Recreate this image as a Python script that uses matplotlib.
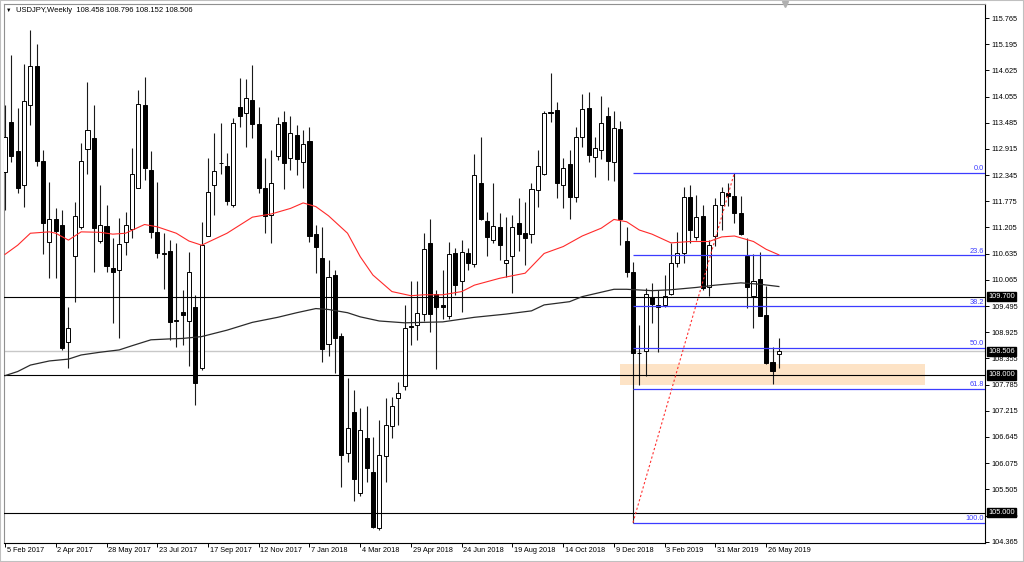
import numpy as np
import matplotlib
matplotlib.use('Agg')
from matplotlib import pyplot as plt
from matplotlib.patches import Rectangle

plt.rcParams['font.family'] = ['Liberation Sans', 'DejaVu Sans']

# ------------------------------------------------------------
# USDJPY weekly candles, first bar = week of 5 Feb 2017
opens = [112.42, 113.51, 112.87, 112.12, 113.87, 114.72, 112.65, 110.90, 111.40, 111.26,
         108.71, 110.58, 111.22, 112.91, 113.16, 110.91, 111.23, 110.33, 110.29, 110.88,
         111.17, 112.07, 113.87, 112.46, 111.10, 110.62, 110.69, 109.16, 109.36, 109.17,
         109.48, 108.14, 111.03, 112.14, 112.60, 112.54, 111.69, 113.83, 113.69, 113.99,
         113.45, 112.06, 111.48, 112.76, 113.51, 112.71, 113.22, 112.64, 113.09, 111.06,
         110.55, 108.67, 110.17, 108.84, 106.30, 107.18, 105.42, 106.62, 105.89, 104.66,
         106.22, 106.88, 107.49, 107.75, 109.07, 109.08, 109.32, 110.87, 109.75, 109.52,
         109.28, 110.64, 110.03, 110.64, 110.41, 112.18, 111.35, 110.93, 111.22, 110.44,
         110.58, 111.30, 111.08, 111.06, 112.02, 112.38, 113.71, 113.76, 112.13, 112.59,
         111.86, 113.17, 113.80, 112.75, 112.89, 113.63, 112.62, 113.34, 110.92, 110.24,
         108.48, 108.52, 109.70, 109.52, 109.52, 109.76, 110.43, 110.64, 111.86, 110.99,
         111.46, 109.90, 111.01, 111.69, 111.95, 111.88, 111.51, 110.59, 109.71, 110.08,
         109.30, 108.28, 108.458]
highs = [113.87, 114.96, 113.80, 114.76, 115.50, 115.19, 112.89, 112.20, 111.62, 111.59,
         109.48, 111.77, 113.04, 114.38, 113.87, 112.13, 111.69, 110.97, 111.42, 111.55,
         112.93, 114.20, 114.49, 112.87, 112.20, 111.08, 110.93, 110.86, 109.84, 110.68,
         109.74, 111.33, 112.71, 113.27, 113.47, 112.83, 113.58, 114.47, 114.43, 114.74,
         113.83, 112.71, 112.89, 113.62, 113.75, 113.63, 113.44, 113.33, 113.40, 111.26,
         111.22, 110.50, 110.28, 108.90, 107.92, 107.67, 107.27, 107.31, 106.65, 107.02,
         107.49, 107.52, 107.85, 109.52, 110.03, 110.03, 111.09, 111.40, 109.84, 110.27,
         110.90, 110.75, 110.93, 110.75, 112.81, 113.18, 111.55, 112.17, 111.53, 111.44,
         111.48, 111.84, 111.77, 112.17, 112.89, 113.73, 114.56, 113.94, 112.71, 112.89,
         113.40, 114.11, 114.16, 113.18, 114.07, 113.83, 113.73, 113.53, 111.22, 110.46,
         109.08, 109.88, 110.00, 109.85, 110.17, 110.86, 111.11, 112.09, 112.13, 111.91,
         111.70, 110.93, 111.84, 112.09, 112.17, 112.40, 111.89, 110.97, 110.63, 110.68,
         109.93, 108.61, 108.796]
lows = [111.59, 112.64, 111.95, 111.66, 113.44, 112.55, 110.62, 110.10, 110.10, 108.54,
        108.14, 109.59, 111.18, 112.38, 110.24, 110.86, 110.24, 109.12, 108.79, 110.61,
        110.97, 112.06, 112.24, 110.97, 110.55, 109.87, 108.76, 108.61, 108.65, 108.18,
        107.34, 108.10, 111.01, 111.48, 112.38, 111.69, 111.66, 113.40, 112.95, 113.15,
        111.95, 111.08, 110.86, 112.67, 112.04, 112.46, 112.35, 112.06, 110.90, 110.21,
        108.28, 108.41, 108.03, 105.55, 106.11, 105.26, 105.35, 105.67, 104.66, 104.62,
        105.67, 106.62, 106.91, 107.67, 108.65, 108.76, 109.18, 108.94, 108.12, 109.21,
        109.21, 109.74, 109.37, 110.28, 110.35, 111.37, 110.58, 110.87, 110.50, 110.12,
        109.77, 110.70, 110.39, 110.86, 111.66, 112.35, 113.51, 111.84, 111.62, 111.38,
        111.77, 112.95, 112.64, 112.30, 112.70, 112.24, 112.22, 110.82, 110.13, 104.78,
        107.78, 107.97, 109.13, 108.50, 109.48, 109.74, 110.34, 110.43, 110.87, 110.93,
        109.85, 109.71, 110.80, 111.15, 111.67, 111.31, 111.04, 109.45, 109.01, 109.27,
        108.23, 107.80, 108.152]
closes = [113.18, 112.76, 112.07, 113.96, 114.71, 112.65, 111.30, 111.38, 111.13, 108.59,
          109.01, 111.46, 112.65, 113.32, 111.20, 111.26, 110.37, 110.24, 110.85, 111.26,
          112.37, 113.89, 112.49, 111.11, 110.64, 110.66, 109.14, 109.19, 109.31, 110.23,
          107.81, 110.82, 111.97, 112.44, 112.60, 111.79, 113.47, 113.63, 114.03, 113.46,
          112.06, 111.45, 112.18, 113.46, 112.60, 113.27, 112.69, 113.02, 111.02, 110.77,
          108.57, 110.13, 108.79, 106.25, 106.83, 105.72, 106.80, 105.96, 104.69, 106.25,
          106.91, 107.32, 107.61, 109.01, 109.04, 109.34, 110.73, 109.32, 109.48, 109.48,
          110.63, 109.95, 110.68, 110.43, 112.35, 111.38, 111.00, 111.24, 110.82, 110.50,
          111.21, 111.06, 110.97, 112.04, 112.54, 113.69, 113.69, 112.18, 112.51, 111.86,
          113.18, 113.78, 112.78, 112.93, 113.47, 112.66, 113.36, 111.38, 110.24, 108.47,
          108.47, 109.76, 109.54, 109.47, 109.71, 110.43, 110.64, 111.86, 111.15, 111.44,
          109.88, 110.82, 111.69, 111.98, 111.88, 111.53, 111.06, 109.92, 110.05, 109.28,
          108.25, 108.09, 108.506]

date_labels = ['5 Feb 2017', '2 Apr 2017', '28 May 2017', '23 Jul 2017', '17 Sep 2017',
               '12 Nov 2017', '7 Jan 2018', '4 Mar 2018', '29 Apr 2018', '24 Jun 2018',
               '19 Aug 2018', '14 Oct 2018', '9 Dec 2018', '3 Feb 2019', '31 Mar 2019',
               '26 May 2019']
label_every = 8  # weeks between date labels

# moving averages (week index, value)
red_ma_week = [0, 2, 4, 7, 8, 10, 12, 15, 17, 19, 22, 24, 27, 29, 31, 35, 39, 42, 45, 47,
               49, 51, 54, 56, 58, 61, 64, 66, 69, 72, 74, 78, 82, 85, 88, 91, 94, 96, 98,
               100, 102, 105, 108, 111, 113, 115, 118, 120, 122]
red_ma = [110.62, 110.82, 111.08, 111.11, 111.08, 110.93, 111.11, 111.10, 111.06, 111.08,
          111.27, 111.22, 111.08, 110.91, 110.82, 111.08, 111.43, 111.50, 111.62, 111.74,
          111.66, 111.46, 111.08, 110.57, 110.17, 109.81, 109.72, 109.74, 109.74, 109.81,
          109.95, 110.10, 110.21, 110.64, 110.79, 111.02, 111.19, 111.38, 111.33, 111.15,
          111.06, 110.87, 110.90, 110.90, 111.00, 111.02, 110.90, 110.73, 110.61]
black_ma_week = [0, 2, 4, 7, 10, 12, 15, 18, 20, 23, 26, 28, 31, 35, 39, 43, 46, 49, 51, 54,
                 56, 59, 61, 63, 66, 69, 74, 79, 83, 85, 89, 91, 96, 98, 102, 105, 109, 112,
                 116, 119, 122]
black_ma = [107.98, 108.07, 108.21, 108.30, 108.34, 108.43, 108.49, 108.54, 108.63, 108.76,
            108.78, 108.79, 108.83, 108.97, 109.14, 109.25, 109.35, 109.44, 109.42, 109.35,
            109.26, 109.17, 109.15, 109.13, 109.14, 109.15, 109.25, 109.32, 109.39, 109.52,
            109.59, 109.70, 109.86, 109.86, 109.83, 109.85, 109.90, 109.95, 110.00, 109.97,
            109.92]

price_ticks = [115.765, 115.195, 114.625, 114.055, 113.485, 112.915, 112.345, 111.775,
               111.205, 110.635, 110.065, 109.495, 108.925, 108.355, 107.785, 107.215,
               106.645, 106.075, 105.505, 104.935, 104.365]
key_levels = [109.700, 108.000, 105.000]
bid = 108.506
zone = (107.77, 108.23)
fib_ratios = [0.0, 23.6, 38.2, 50.0, 61.8, 100.0]
fib_low_week = 99
fib_high_week = 115
header = 'USDJPY,Weekly  108.458 108.796 108.152 108.506'

# ------------------------------------------------------------
fig = plt.figure(figsize=(10.24, 5.62), dpi=100)
ax = fig.add_axes([4 / 1024, 19 / 562, 981 / 1024, 539 / 562])
xmax = 154.5
ax.set_xlim(-0.16, xmax)
ax.set_ylim(104.337, 116.07)

o = np.array(opens); h = np.array(highs); l = np.array(lows); c = np.array(closes)
x = np.arange(len(o))
up = c >= o
bottom = np.minimum(o, c)
height = np.maximum(np.abs(c - o), 0.012)

# support zone behind candles
ax.add_patch(Rectangle((96.9, zone[0]), 145.1 - 96.9, zone[1] - zone[0],
                       facecolor='#fde3c6', edgecolor='none', zorder=1))

ax.vlines(x, l, h, color='#1a1a1a', lw=0.8, zorder=3)
ax.bar(x[up], height[up], bottom=bottom[up], width=0.64, facecolor='white',
       edgecolor='black', lw=0.7, zorder=4)
ax.bar(x[~up], height[~up], bottom=bottom[~up], width=0.64, facecolor='black',
       edgecolor='black', lw=0.7, zorder=4)

# moving averages
ax.plot(red_ma_week, red_ma, color='#ff2a2a', lw=0.8, zorder=6)
ax.plot(black_ma_week, black_ma, color='#2b2b2b', lw=0.9, zorder=6)

# horizontal levels
for lv in key_levels:
    ax.axhline(lv, color='black', lw=0.8, zorder=5)
ax.axhline(bid, color='#c8c8c8', lw=1.0, zorder=2)

# fibonacci retracement
fib_low = l[fib_low_week]
fib_high = h[fib_high_week]
for r in fib_ratios:
    p = fib_high - (fib_high - fib_low) * r / 100
    ax.hlines(p, fib_low_week, xmax, color='#3c3cff', lw=0.9, zorder=5)
    ax.text(xmax - 0.2, p + 0.01, '%.1f' % r, color='#3c3cff', fontsize=5.3,
            ha='right', va='bottom', zorder=7)
ax.plot([fib_low_week, fib_high_week], [fib_low, fib_high], color='#ff3030', lw=0.8,
        ls=(0, (2, 2)), zorder=6)

# axes styling
for side in ['left', 'top']:
    ax.spines[side].set_color('#909090')
for side in ['right', 'bottom']:
    ax.spines[side].set_color('black')
for s in ax.spines.values():
    s.set_linewidth(0.8)

ax.yaxis.tick_right()
ax.set_yticks(price_ticks)
ax.set_yticklabels(['%.3f' % t for t in price_ticks])
ax.tick_params(axis='y', length=3, width=0.7, pad=1.5, labelsize=5.3, color='black')

tick_weeks = [i * label_every for i in range(len(date_labels))]
ax.set_xticks(tick_weeks)
ax.set_xticklabels([])
ax.tick_params(axis='x', length=3, width=0.7, color='black')
xt = ax.get_xaxis_transform()
for w, lab in zip(tick_weeks, date_labels):
    ax.text(w + 0.25, -0.008, lab, transform=xt, ha='left', va='top', fontsize=5.3,
            clip_on=False)

yt = ax.get_yaxis_transform()
for p in [109.700, bid, 108.000, 105.000]:
    ax.text(1.003, p, '%.3f' % p, transform=yt, ha='left', va='center', fontsize=5.3,
            color='white', zorder=10, clip_on=False,
            bbox=dict(boxstyle='square,pad=0.18', fc='black', ec='black'))

# chart shift marker
ax.plot([0.796], [1.0], marker='v', color='#b0b0b0', markersize=5,
        transform=ax.transAxes, clip_on=False, zorder=10)

fig.text(6 / 1024, 1 - 10 / 562, '\u25bc', fontsize=4, va='center', ha='left')
fig.text(16 / 1024, 1 - 10 / 562, header, fontsize=5.5, va='center', ha='left')

fig.patches.append(Rectangle((0, 0), 1, 1, transform=fig.transFigure, fill=False,
                             edgecolor='#c0c0c0', lw=1.5))

fig.savefig('out.png', dpi=100)
